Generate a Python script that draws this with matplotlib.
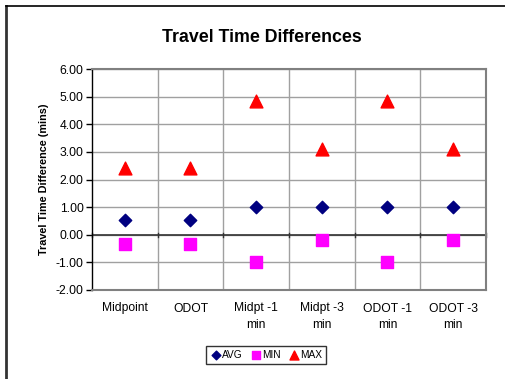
import matplotlib.pyplot as plt
from matplotlib.lines import Line2D

plt.rcParams['font.family'] = ['Liberation Sans', 'DejaVu Sans']

categorias = ['Midpoint', 'ODOT', 'Midpt -1\nmin', 'Midpt -3\nmin', 'ODOT -1\nmin', 'ODOT -3\nmin']
avg = [0.52, 0.52, 1.00, 1.00, 1.00, 1.00]
minimo = [-0.35, -0.35, -1.00, -0.20, -1.00, -0.20]
maximo = [2.40, 2.40, 4.85, 3.10, 4.85, 3.10]
y_ticks = [-2, -1, 0, 1, 2, 3, 4, 5, 6]

fig = plt.figure(figsize=(5.06, 3.79), dpi=100)
fig.patch.set_facecolor('white')

# marco del grafico: solo lineas izquierda y superior
fig.add_artist(Line2D([6/506, 6/506], [0, 1 - 6/379], transform=fig.transFigure,
                      color='#333333', lw=2))
fig.add_artist(Line2D([6/506, 1], [1 - 6/379, 1 - 6/379], transform=fig.transFigure,
                      color='black', lw=1.2))

ax = fig.add_axes([92/506, 1 - 290/379, (486 - 92)/506, (290 - 69)/379])
x = list(range(1, len(categorias) + 1))

ax.set_xlim(0.5, len(categorias) + 0.5)
ax.set_ylim(-2, 6)

for yv in y_ticks:
    ax.axhline(yv, color='#a0a0a0', lw=1, zorder=1)
for xv in range(1, len(categorias)):
    ax.axvline(xv + 0.5, color='#a0a0a0', lw=1, zorder=1)
ax.axhline(0, color='#333333', lw=1.2, zorder=2)
for xv in range(len(categorias) + 1):
    ax.plot([xv + 0.5, xv + 0.5], [-0.07, 0.07], color='#333333', lw=1, zorder=2,
            clip_on=False)

ax.scatter(x, avg, marker='D', s=40, color='#000080', zorder=3, label='AVG')
ax.scatter(x, minimo, marker='s', s=80, color='#FF00FF', zorder=3, label='MIN')
ax.scatter(x, maximo, marker='^', s=85, color='#FF0000', zorder=3, label='MAX')

ax.set_yticks(y_ticks)
ax.set_yticklabels([f'{v:.2f}' for v in y_ticks], fontsize=8.7)
ax.set_xticks(x)
ax.set_xticklabels(categorias, fontsize=8.7, linespacing=1.5)
ax.tick_params(axis='x', length=0, pad=9)
ax.tick_params(axis='y', length=4, width=1, pad=2)

for lado in ['top', 'right', 'bottom']:
    ax.spines[lado].set_color('#808080')
    ax.spines[lado].set_linewidth(1.5)
ax.spines['left'].set_color('black')
ax.spines['left'].set_linewidth(1)

ax.set_ylabel('Travel Time Difference (mins)', fontsize=7.8, fontweight='bold', labelpad=5)
fig.text(262/506, 1 - 38/379, 'Travel Time Differences', ha='center', va='center',
         fontsize=12.8, fontweight='bold')

leg = fig.legend(loc='center', bbox_to_anchor=(266/506, 1 - 355/379), ncol=3,
                 fontsize=7.3, frameon=True, fancybox=False, handletextpad=0.0,
                 columnspacing=0.7, handlelength=1.2, borderpad=0.35,
                 markerscale=0.7)
leg.get_frame().set_edgecolor('black')
leg.get_frame().set_linewidth(1)

fig.savefig('out.png', dpi=100)
